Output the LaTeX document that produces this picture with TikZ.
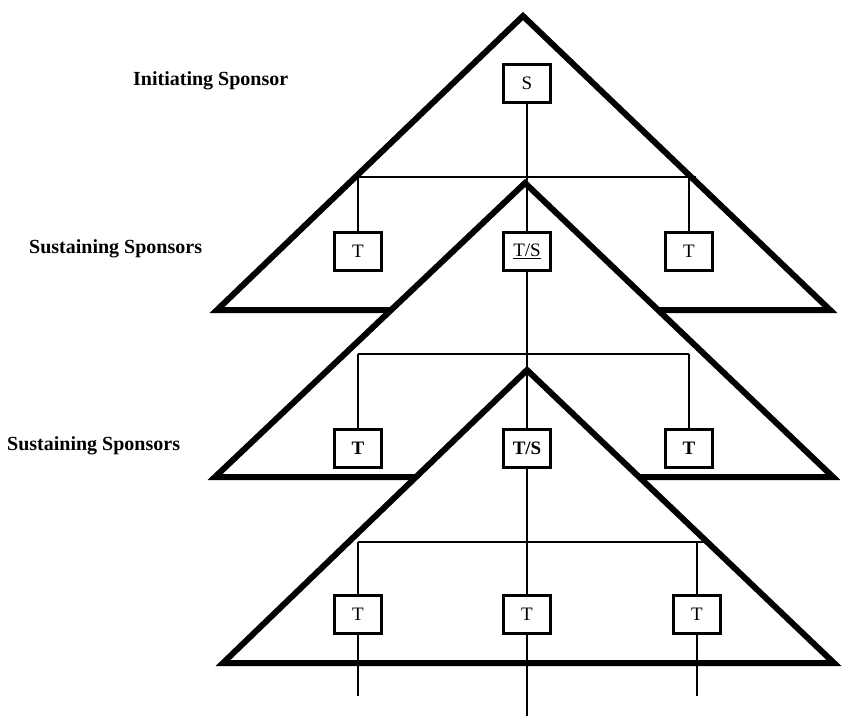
\documentclass[tikz,border=0pt]{standalone}
\usepackage{fontspec}
\setmainfont{Liberation Serif}

\begin{document}
\begin{tikzpicture}[
        x=1pt, y=-1pt,
        level/.style={draw,line width=6pt,line join=miter,fill=white},
        link/.style={line width=2.2pt},
        tbox/.style={rectangle,draw,line width=3pt,fill=white,minimum width=47pt,minimum height=38pt,inner sep=0pt,font=\fontsize{19}{19}\selectfont},
        caption/.style={anchor=base west,inner sep=0pt,font=\fontsize{20}{24}\selectfont\bfseries}
      ]
        \useasboundingbox (0,0) rectangle (842,716);
        % the three levels, each one hides the base of the one above
        \draw[level] (523,16) -- (830,310) -- (217,310) -- cycle;
        \draw[level] (525,183) -- (833,477) -- (215,477) -- cycle;
        \draw[level] (527,370) -- (834,663) -- (223,663) -- cycle;
        \node[caption] (init)  at (133,85)  {Initiating Sponsor};
        \node[caption] (sust1) at (29,253)  {Sustaining Sponsors};
        \node[caption] (sust2) at (7,450)   {Sustaining Sponsors};
        \node[tbox] (s)   at (527,83)  {S};
        \node[tbox] (t1a) at (358,251) {T};
        \node[tbox] (ts1) at (527,251) {\underline{T/S}};
        \node[tbox] (t1c) at (689,251) {T};
        \node[tbox] (t2a) at (358,448) {\bfseries T};
        \node[tbox] (ts2) at (527,448) {\bfseries T/S};
        \node[tbox] (t2c) at (689,448) {\bfseries T};
        \node[tbox] (t3a) at (358,614) {T};
        \node[tbox] (t3b) at (527,614) {T};
        \node[tbox] (t3c) at (697,614) {T};
        \coordinate (b1l) at (352,177);
        \coordinate (b1r) at (696,177);
        \coordinate (b2l) at (358,354);
        \coordinate (b2r) at (689,354);
        \coordinate (b3l) at (358,542);
        \coordinate (b3r) at (708,542);
        \coordinate (e3a) at (358,696);
        \coordinate (e3b) at (527,716);
        \coordinate (e3c) at (697,696);
        % main line down the middle
        \draw[link] (s) -- (ts1);
        \draw[link] (ts1) -- (ts2);
        \draw[link] (ts2) -- (t3b);
        \draw[link] (t3b) -- (e3b);
        % bars
        \draw[link] (b1l) -- (b1r);
        \draw[link] (t1a) -- (t1a |- b1l);
        \draw[link] (t1c) -- (t1c |- b1r);
        \draw[link] (b2l) -- (b2r);
        \draw[link] (t2a) -- (b2l);
        \draw[link] (t2c) -- (b2r);
        \draw[link] (b3l) -- (b3r);
        \draw[link] (t3a) -- (b3l);
        \draw[link] (t3c) -- (t3c |- b3r);
        \draw[link] (t3a) -- (e3a);
        \draw[link] (t3c) -- (e3c);
      \end{tikzpicture}
\end{document}
